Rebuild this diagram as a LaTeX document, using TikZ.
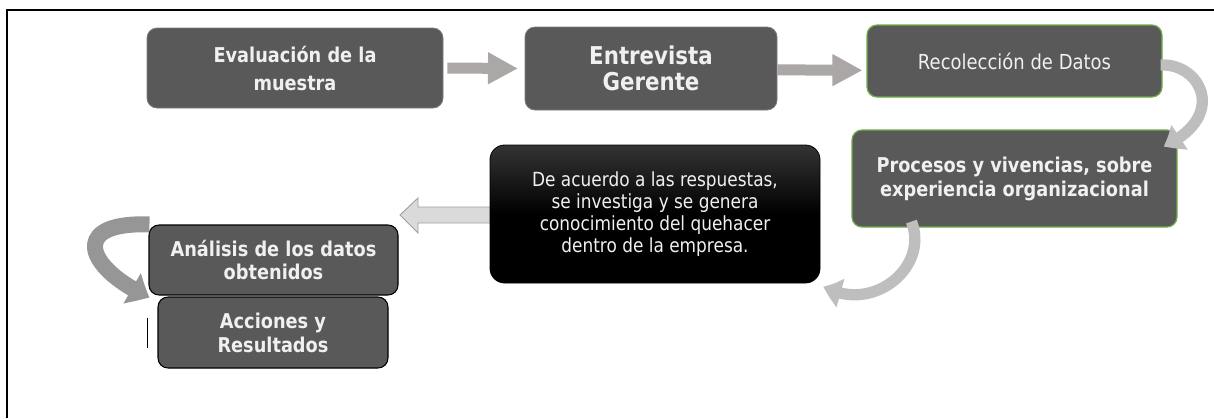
\documentclass[tikz,border=0pt]{standalone}
\usepackage{fontspec}
\setmainfont{DejaVu Sans}[FakeStretch=0.87]
\usetikzlibrary{arrows.meta,bending,calc}
\definecolor{boxgray}{RGB}{89,89,89}
\definecolor{boxedge}{RGB}{125,125,125}
\definecolor{boxgreen}{RGB}{112,173,71}
\definecolor{txtwhite}{RGB}{240,240,240}
\definecolor{arrowgray}{RGB}{171,167,166}
\definecolor{curvegray}{RGB}{190,190,190}
\definecolor{curvedark}{RGB}{150,150,150}
\definecolor{hollowfill}{RGB}{218,218,218}
\definecolor{hollowedge}{RGB}{160,160,160}
\definecolor{topblack}{RGB}{52,52,52}
\tikzset{
  stepbox/.style={rectangle, rounded corners=7.5pt, fill=boxgray, draw=boxedge, line width=0.6pt, text=txtwhite, align=center, inner sep=0pt},
  greenbox/.style={stepbox, draw=boxgreen, line width=0.9pt},
  darkbox/.style={stepbox, draw=black, line width=0.8pt},
  blackbox/.style={rectangle, rounded corners=11pt, draw=black, line width=0.6pt, top color=topblack, bottom color=black, middle color=black, text=txtwhite, align=center, inner sep=0pt},
  boldtxt/.style={font=\bfseries\fontsize{15.3}{17}\selectfont},
  plaintxt/.style={font=\fontsize{14.6}{16.5}\selectfont},
  flatarrow/.style={draw=arrowgray, line width=8.25pt, -{Triangle[length=22.5pt,width=22.5pt]}},
  bendarrow/.style={line width=8.5pt, -{Triangle[length=14pt,width=21pt,bend]}},
  hollowarrow/.style={fill=hollowfill, draw=hollowedge, line width=0.7pt},
}

\begin{document}
\begin{tikzpicture}[x=0.75pt, y=-0.75pt]
    \useasboundingbox (0,0) rectangle (1214,418);
    % frame
    \draw[black, line width=1.5pt] (7,418) -- (7,10) -- (1214,10);

    % top row
    \node[stepbox, font=\bfseries\fontsize{15.3}{21}\selectfont, minimum width=222pt, minimum height=60pt] (evaluacion) at (295,68) {Evaluación de la\\muestra};
    \node[stepbox, font=\bfseries\fontsize{18.4}{19}\selectfont, minimum width=189pt, minimum height=62.25pt] (entrevista) at (651,68.5) {Entrevista\\Gerente};
    \node[greenbox, font=\fontsize{15.5}{16.5}\selectfont, minimum width=221.25pt, minimum height=54pt] (recoleccion) at (1014.5,61) {Recolección de Datos};

    \draw[flatarrow] ([xshift=3pt]evaluacion.east) -- ([xshift=-5pt]entrevista.west);
    \draw[flatarrow] ([yshift=-1pt]entrevista.east) -- ([xshift=-3pt,yshift=-7pt]recoleccion.west);

    % second row
    \node[greenbox, font=\bfseries\fontsize{15.3}{18}\selectfont, minimum width=243.75pt, minimum height=72.75pt] (procesos) at (1014.5,178.5) {Procesos y vivencias, sobre\\experiencia organizacional};

    \coordinate (tipL) at (400,215);
    \draw[hollowarrow] (490,207) -- (418,207) -- (418,198) -- (tipL) -- (418,233) -- (418,223) -- (490,223);
    \node[blackbox, plaintxt, minimum width=247.5pt, minimum height=103.5pt] (deacuerdo) at (655,214) {De acuerdo a las respuestas,\\se investiga y se genera\\conocimiento del quehacer\\dentro de la empresa.};

    % left stack
    \node[darkbox, boldtxt, minimum width=186.75pt, minimum height=52.5pt] (analisis) at (273.5,260) {Análisis de los datos\\obtenidos};
    \node[darkbox, font=\bfseries\fontsize{15.3}{18}\selectfont, minimum width=172.5pt, minimum height=53.25pt] (acciones) at (273,332.5) {Acciones y\\Resultados};
    \draw[black, line width=1.1pt] ($(acciones.west)+(-10,-15)$) -- ($(acciones.west)+(-10,15)$);

    % curved arrows
    \draw[bendarrow, draw=curvegray] ($(recoleccion.east)+(-2,4)$) .. controls +(40,-2) and +(65,-30) .. ($(procesos.north east)+(-14,17)$);
    \draw[bendarrow, draw=curvegray] ($(procesos.south west)+(60,-6)$) .. controls +(18,45) and +(50,28) .. ($(deacuerdo.south east)+(3,3)$);
    \draw[bendarrow, draw=curvedark, line width=12pt, -{Triangle[length=15pt,width=25pt,bend]}] ($(analisis.north west)+(1,0)$) .. controls +(-80,-3) and +(-65,-30) .. ($(acciones.north west)+(-8,1)$);
\end{tikzpicture}
\end{document}
